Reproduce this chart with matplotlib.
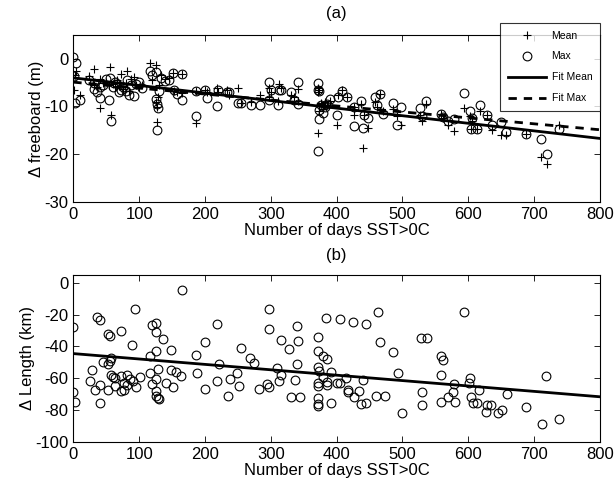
import numpy as np
import matplotlib
matplotlib.use("Agg")
import matplotlib.pyplot as plt
from matplotlib.lines import Line2D

plt.rcParams["font.family"] = ["Liberation Sans", "DejaVu Sans"]
plt.rcParams["axes.unicode_minus"] = False

# Panel (a): days SST>0C, mean and max change in freeboard (m)
days_a = [0, 4, 1, 2, 10, 24, 32, 31, 36, 40, 40, 45, 50, 54, 56, 58, 60, 63, 66, 70,
          73, 76, 80, 82, 85, 88, 92, 95, 100, 104, 117, 119, 125, 126, 127, 128, 127, 130, 133, 140,
          145, 151, 153, 158, 165, 165, 187, 187, 200, 203, 218, 220, 233, 236, 250, 255, 270, 283, 297, 297,
          300, 311, 312, 315, 330, 336, 342, 342, 372, 372, 373, 372, 373, 374, 376, 380, 382, 385, 390, 401,
          402, 408, 416, 426, 426, 437, 442, 440, 447, 459, 466, 462, 471, 486, 492, 498, 527, 529, 536, 558,
          561, 569, 578, 594, 602, 604, 606, 614, 618, 628, 636, 650, 657, 687, 711, 719, 738]
mean_a = [-3.3, -2.5, -6.5, -3.5, -7.5, -3.7, -2.1, -5.5, -6.0, -4.3, -10.3, -5.0, -4.8, -5.5, -1.8, -11.9, -5.2, -6.0, -4.5, -5.8,
          -3.1, -6.3, -5.1, -2.5, -6.8, -4.2, -3.8, -5.6, -6.0, -5.4, -0.95, -4.5, -1.4, -9.0, -10.1, -8.0, -13.3, -5.6, -3.3, -4.2,
          -4.0, -3.0, -6.8, -7.0, -3.1, -7.2, -13.5, -6.8, -6.5, -7.0, -6.1, -7.0, -6.6, -7.5, -6.2, -9.3, -9.0, -7.7, -6.2, -8.0,
          -7.0, -8.8, -5.3, -6.2, -7.5, -8.0, -6.3, -8.8, -6.1, -7.0, -6.5, -15.6, -11.0, -10.0, -9.2, -10.5, -9.0, -9.8, -8.8, -14.0,
          -7.5, -6.5, -8.0, -10.2, -11.9, -9.5, -11.9, -18.8, -14.5, -9.0, -7.4, -10.2, -11.0, -10.5, -12.0, -13.9, -11.9, -13.1, -9.5, -11.5,
          -12.5, -14.0, -15.1, -10.3, -12.0, -14.7, -13.0, -14.7, -11.0, -11.9, -15.0, -16.0, -16.0, -15.7, -20.6, -22.1, -14.0]
max_a = [0.3, -0.95, -3.7, -9.3, -8.6, -4.5, -5.0, -6.3, -6.9, -8.2, -6.0, -5.5, -4.2, -8.7, -4.0, -13.1, -6.0, -4.8, -5.2, -7.0,
         -6.5, -5.9, -6.8, -4.5, -7.5, -5.6, -7.8, -5.3, -4.9, -6.2, -2.6, -3.5, -2.7, -8.4, -9.4, -10.3, -14.9, -6.8, -4.0, -4.7,
         -4.4, -3.0, -6.5, -7.4, -3.1, -8.7, -12.1, -6.8, -6.5, -8.3, -10.0, -6.6, -7.0, -7.0, -9.3, -9.3, -9.6, -9.6, -4.9, -8.6,
         -6.5, -9.6, -6.6, -6.6, -7.0, -8.6, -4.9, -9.5, -5.1, -6.5, -6.8, -19.3, -12.6, -10.7, -9.8, -11.4, -10.2, -9.5, -8.5, -11.7,
         -8.1, -6.7, -8.1, -10.2, -14.2, -8.8, -11.9, -14.5, -12.5, -8.1, -7.4, -9.8, -11.5, -9.3, -14.0, -10.2, -10.4, -12.0, -8.9, -11.5,
         -12.2, -13.0, -12.6, -7.2, -10.9, -14.7, -12.5, -14.7, -9.6, -11.9, -13.9, -13.3, -15.4, -15.7, -16.8, -20.0, -14.7]

# Panel (b): days SST>0C and change in length (km)
days_b = [165, 36, 40, 93, 0, 119, 126, 125, 137, 73, 53, 55, 200, 89, 126, 149, 186, 116, 58, 56,
          45, 53, 28, 129, 149, 156, 164, 188, 116, 57, 60, 63, 73, 82, 86, 91, 101, 126, 25, 41,
          63, 77, 81, 96, 119, 141, 152, 33, 53, 73, 77, 126, 0, 200, 126, 128, 130, 3, 41,
          297, 219, 384, 405, 297, 340, 316, 342, 372, 327, 255, 372, 380, 385, 268, 275, 221, 340, 372, 373,
          391, 310, 315, 249, 380, 372, 372, 386, 386, 401, 219, 238, 251, 294, 298, 312, 337, 282, 235, 331,
          344, 372, 372, 372, 391,
          463, 594, 425, 444, 466, 486, 528, 537, 558, 562, 414, 440, 494, 558, 578, 602, 405, 417, 418, 434,
          427, 460, 473, 529, 577, 569, 437, 444, 529, 559, 580, 499, 604, 607,
          601, 617, 614, 628, 635, 627, 645, 652, 659, 687, 718, 712, 738]
length_b = [-4.2, -21.5, -23.2, -16.4, -27.8, -26.8, -25.3, -31.2, -35.0, -30.0, -32.4, -33.7, -37.0, -39.0, -43.0, -42.3, -45.7, -46.0, -47.4, -48.9,
            -49.7, -51.0, -54.8, -54.3, -54.8, -56.2, -58.5, -56.7, -56.5, -58.1, -59.0, -60.0, -58.5, -58.1, -60.6, -61.9, -59.0, -60.6, -61.9, -64.0,
            -64.9, -63.2, -64.0, -65.3, -63.8, -63.2, -65.7, -67.4, -67.4, -68.2, -67.4, -67.8, -68.5, -67.0, -71.2, -72.4, -73.3, -75.2, -75.4,
            -16.4, -25.7, -21.9, -22.7, -29.0, -27.4, -36.0, -36.5, -34.3, -41.3, -40.7, -43.0, -46.3, -47.6, -47.2, -50.5, -51.2, -51.2, -53.0, -55.2,
            -56.0, -53.5, -57.7, -56.8, -59.4, -63.2, -64.9, -64.4, -62.5, -63.2, -61.5, -60.2, -64.9, -63.8, -65.3, -61.9, -61.0, -67.0, -71.2, -71.6,
            -71.8, -72.4, -76.2, -77.5, -75.4,
            -18.1, -18.1, -24.4, -25.9, -37.0, -43.4, -34.5, -34.5, -46.3, -48.4, -59.8, -61.0, -56.8, -58.1, -63.6, -60.0, -63.2, -67.4, -68.8, -67.8,
            -71.6, -71.2, -71.2, -68.8, -68.8, -71.6, -76.2, -75.8, -76.9, -75.2, -74.8, -81.7, -71.6, -75.4,
            -63.2, -67.4, -75.4, -76.9, -76.9, -81.1, -81.7, -80.0, -70.1, -77.9, -58.4, -88.9, -85.5]

# linear fits: (intercept, slope per day)
fit_mean = (-4.0, -0.0159)
fit_max = (-4.9, -0.0125)
fit_length = (-44.5, -0.034)
fit_days = np.array([0, 800])

xticks = np.arange(0, 801, 100)

fig = plt.figure(figsize=(6.14, 4.84), dpi=100)
ax1 = fig.add_axes([0.1194, 0.5833, 0.8576, 0.3444])
ax2 = fig.add_axes([0.1194, 0.0874, 0.8576, 0.3444])

mk = dict(linestyle="none", color="black", markerfacecolor="none", markersize=6.3, markeredgewidth=0.8)

ax1.plot(days_a, mean_a, marker="+", **mk)
ax1.plot(days_a, max_a, marker="o", **mk)
ax1.plot(fit_days, fit_mean[0] + fit_mean[1] * fit_days, color="black", lw=2)
ax1.plot(fit_days, fit_max[0] + fit_max[1] * fit_days, color="black", lw=2, ls=(0, (3, 2.5)))

ax2.plot(days_b, length_b, marker="o", **mk)
ax2.plot(fit_days, fit_length[0] + fit_length[1] * fit_days, color="black", lw=2)

for ax in (ax1, ax2):
    ax.set_xlim(0, 800)
    ax.set_xticks(xticks)
    ax.tick_params(direction="in", top=True, right=True, length=4, width=0.6, labelsize=12)
    for s in ax.spines.values():
        s.set_linewidth(0.8)
    ax.set_xlabel("Number of days SST>0C", fontsize=12, labelpad=1)

ax1.set_ylim(-30, 5)
ax1.set_yticks([-30, -20, -10, 0])
ax1.set_ylabel("Δ freeboard (m)", fontsize=12, labelpad=0)
ax1.set_title("(a)", fontsize=12, pad=12)

ax2.set_ylim(-100, 5)
ax2.set_yticks(np.arange(-100, 1, 20))
ax2.set_ylabel("Δ Length (km)", fontsize=12, labelpad=0)
ax2.set_title("(b)", fontsize=12, pad=11)

handles = [
    Line2D([], [], marker="+", **mk),
    Line2D([], [], marker="o", **mk),
    Line2D([], [], color="black", lw=2),
    Line2D([], [], color="black", lw=2, ls=(0, (3, 2.5))),
]
leg = fig.legend(handles, ["Mean", "Max", "Fit Mean", "Fit Max"],
                 loc="upper right", bbox_to_anchor=(600 / 614, 1 - 22.7 / 484),
                 fontsize=7.5, frameon=True, fancybox=False, edgecolor="black",
                 handlelength=3.7, handletextpad=0.5, labelspacing=1.05,
                 borderpad=0.75, borderaxespad=0)
leg.get_frame().set_linewidth(0.8)

fig.savefig("out.png", dpi=100)
